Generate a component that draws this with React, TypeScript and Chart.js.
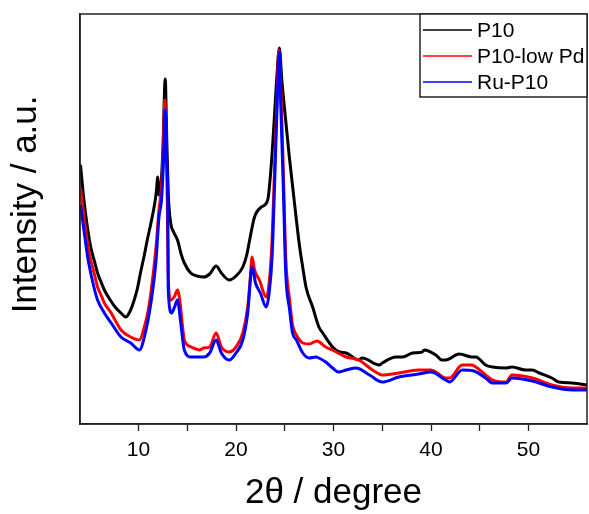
import React, { useEffect, useRef } from "react";
import { Chart, registerables } from "chart.js";

Chart.register(...registerables);

// 2θ positions (degree) and intensities (a.u.)
const p10X = [4.05, 4.4, 4.8, 5.1, 5.5, 5.8, 6.2, 6.5, 7.1, 7.6, 8.2, 8.7, 9.1, 9.56, 9.9, 10.2, 10.6, 10.9, 11.3, 11.6, 11.85, 11.95, 12.1, 12.3, 12.5, 12.74, 12.9, 13.05, 13.3, 13.6, 14.0, 14.4, 14.7, 15.35, 16.0, 16.7, 17.3, 17.96, 18.5, 19.3, 20.0, 20.7, 21.1, 21.4, 21.9, 22.6, 23.25, 23.6, 23.9, 24.2, 24.45, 24.7, 24.96, 25.47, 26.16, 26.5, 26.84, 27.2, 27.86, 28.5, 28.9, 29.9, 30.6, 31.3, 32.6, 32.95, 34.7, 35.0, 36.4, 37.1, 38.1, 39.1, 39.3, 40.5, 41.1, 41.5, 42.9, 44.2, 44.6, 45.6, 46.3, 47.7, 48.3, 49.7, 50.4, 51.1, 52.4, 53.1, 54.5, 56];
const p10Y = [259, 224, 194, 177, 162, 151, 141, 134, 124, 117, 111, 107, 112, 124, 136, 151, 169, 184, 202, 217, 234, 247, 229, 239, 274, 345, 284, 231, 201, 192, 184, 169, 161, 151, 148, 147, 150, 158, 151, 144, 148, 157, 169, 184, 207, 217, 224, 257, 301, 349, 376, 344, 317, 267, 207, 179, 157, 136, 117, 97, 91, 77, 72, 71, 64, 66, 59, 61, 67, 67, 71, 72, 74, 69, 64, 64, 70, 67, 67, 59, 57, 56, 57, 54, 54, 51, 46, 42, 41, 39];

const lowPdX = [4.05, 4.4, 4.8, 5.1, 5.5, 5.8, 6.2, 6.5, 7.2, 7.7, 8.2, 9.2, 10.1, 10.6, 11.0, 11.27, 11.8, 12.1, 12.36, 12.5, 12.7, 12.85, 12.95, 13.05, 13.3, 13.66, 14.0, 14.27, 14.5, 14.7, 15.4, 16.25, 16.7, 17.3, 17.96, 18.5, 19.3, 20.0, 20.7, 21.2, 21.45, 21.65, 21.9, 22.4, 23.1, 23.4, 23.7, 23.94, 24.2, 24.4, 24.6, 24.86, 25.1, 25.5, 25.8, 26.2, 26.85, 27.5, 28.3, 29.2, 29.9, 31.3, 32.6, 34.0, 35.0, 36.7, 38.7, 40.0, 40.5, 41.5, 41.9, 43.2, 44.2, 44.6, 45.6, 46.3, 47.7, 48.3, 50.4, 52.4, 54.5, 56];
const lowPdY = [236, 207, 179, 164, 149, 137, 128, 121, 111, 102, 94, 87, 84, 97, 114, 131, 177, 214, 237, 264, 324, 274, 224, 147, 124, 127, 134, 121, 99, 84, 77, 74, 76, 77, 91, 77, 72, 77, 91, 117, 144, 167, 154, 144, 127, 141, 184, 251, 324, 374, 334, 251, 167, 124, 99, 89, 81, 80, 83, 77, 74, 67, 64, 54, 49, 51, 54, 54, 52, 46, 46, 59, 59, 57, 49, 44, 42, 49, 46, 39, 36, 36];

const ruX = [4.05, 4.4, 4.8, 5.1, 5.5, 5.8, 6.5, 7.2, 8.2, 9.2, 10.1, 10.6, 11.27, 11.8, 12.1, 12.36, 12.55, 12.74, 12.9, 13.0, 13.05, 13.4, 13.7, 14.0, 14.3, 14.7, 15.4, 16.7, 17.3, 17.96, 18.5, 19.3, 20.0, 20.7, 21.2, 21.65, 22.0, 22.5, 23.1, 23.4, 23.7, 23.94, 24.2, 24.45, 24.6, 24.86, 25.1, 25.5, 25.8, 26.2, 26.85, 27.5, 28.2, 28.5, 29.2, 29.9, 30.5, 31.3, 32.3, 33.7, 35.0, 36.7, 38.7, 40.0, 41.5, 41.9, 43.2, 44.4, 45.6, 46.3, 47.7, 48.3, 50.4, 52.4, 54.5, 56];
const ruY = [219, 194, 166, 151, 134, 124, 111, 101, 87, 81, 74, 87, 121, 164, 207, 224, 259, 314, 264, 224, 134, 111, 117, 124, 104, 74, 67, 67, 71, 84, 71, 64, 71, 84, 111, 157, 141, 131, 117, 131, 167, 234, 314, 372, 317, 234, 151, 114, 91, 84, 71, 66, 67, 66, 62, 56, 52, 54, 56, 49, 42, 47, 50, 52, 44, 42, 54, 53, 46, 41, 41, 46, 43, 37, 34, 34];

const seriesNames = ["P10", "P10-low Pd", "Ru-P10"];
const seriesColors = ["#000000", "#ff0000", "#0000ff"];
const xTickLabels = ["10", "20", "30", "40", "50"];

const FONT = "'Liberation Sans', Arial, sans-serif";

const toPoints = (xs: number[], ys: number[]) => xs.map((x, i) => ({ x, y: ys[i] }));

const framePlugin = {
  id: "frame",
  afterDatasetsDraw(chart: any) {
    const { ctx, chartArea } = chart;
    ctx.save();
    ctx.strokeStyle = "#222";
    ctx.lineWidth = 1.5;
    ctx.strokeRect(chartArea.left, chartArea.top, chartArea.right - chartArea.left, chartArea.bottom - chartArea.top);
    ctx.restore();
  },
};

const legendPlugin = {
  id: "boxLegend",
  afterDraw(chart: any) {
    const { ctx, chartArea } = chart;
    const w = 167;
    const h = 83;
    const left = chartArea.right - w;
    const top = chartArea.top;
    ctx.save();
    ctx.fillStyle = "#fff";
    ctx.fillRect(left, top, w, h);
    ctx.strokeStyle = "#222";
    ctx.lineWidth = 1.5;
    ctx.strokeRect(left, top, w, h);
    ctx.font = `21px ${FONT}`;
    ctx.textBaseline = "middle";
    ctx.textAlign = "left";
    chart.data.datasets.forEach((ds: any, i: number) => {
      const y = top + 16 + i * 26;
      ctx.strokeStyle = ds.borderColor;
      ctx.lineWidth = 1.5;
      ctx.beginPath();
      ctx.moveTo(left + 3, y);
      ctx.lineTo(left + 52, y);
      ctx.stroke();
      ctx.fillStyle = "#000";
      ctx.fillText(ds.label, left + 57, y + 1);
    });
    ctx.restore();
  },
};

export default function App() {
  const canvasRef = useRef<HTMLCanvasElement | null>(null);

  useEffect(() => {
    const canvas = canvasRef.current;
    if (!canvas) return;
    const xsList = [p10X, lowPdX, ruX];
    const ysList = [p10Y, lowPdY, ruY];
    const chart = new Chart(canvas, {
      type: "line",
      data: {
        datasets: seriesNames.map((name, i) => ({
          label: name,
          data: toPoints(xsList[i], ysList[i]),
          borderColor: seriesColors[i],
          backgroundColor: seriesColors[i],
          borderWidth: 3,
          pointRadius: 0,
          cubicInterpolationMode: "monotone" as const,
          fill: false,
          order: 2 - i,
        })),
      },
      options: {
        responsive: false,
        animation: false,
        devicePixelRatio: 1,
        layout: { padding: { top: 14, right: 2, left: 0, bottom: 0 } },
        plugins: {
          legend: { display: false },
          tooltip: { enabled: false },
        },
        scales: {
          x: {
            type: "linear",
            min: 4,
            max: 56,
            position: "bottom",
            afterBuildTicks: (scale: any) => {
              scale.ticks = scale.ticks.filter((t: any) => t.value % 5 === 0);
            },
            afterFit: (scale: any) => {
              scale.height = 90;
            },
            ticks: {
              stepSize: 5,
              autoSkip: false,
              maxRotation: 0,
              padding: 7,
              color: "#000",
              font: { family: FONT, size: 21 },
              callback: (v: any) => (xTickLabels.includes(String(v)) ? String(v) : ""),
            },
            grid: {
              drawOnChartArea: false,
              drawTicks: true,
              tickLength: 7,
              tickColor: "#222",
              tickWidth: 1.3,
            },
            border: { display: true, color: "#222", width: 1.5 },
            title: {
              display: true,
              text: "2θ / degree",
              color: "#000",
              font: { family: FONT, size: 35 },
              padding: { top: 0, bottom: 0 },
            },
          },
          y: {
            type: "linear",
            min: 0,
            max: 410,
            afterFit: (scale: any) => {
              scale.width = 80;
            },
            ticks: { display: false },
            grid: { display: false },
            border: { display: true, color: "#222", width: 1.5 },
            title: {
              display: true,
              text: "   Intensity / a.u.",
              color: "#000",
              font: { family: FONT, size: 35 },
              padding: { top: 5, bottom: 0 },
            },
          },
        },
      },
      plugins: [framePlugin, legendPlugin],
    });
    return () => chart.destroy();
  }, []);

  return (
    <div style={{ position: "fixed", left: 0, top: 0, width: 589, height: 514, background: "#fff" }}>
      <canvas ref={canvasRef} width={589} height={514} style={{ display: "block" }} />
    </div>
  );
}
